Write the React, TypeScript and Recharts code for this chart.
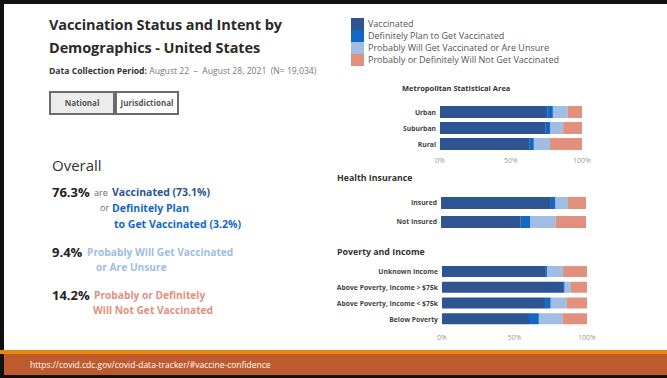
import React from 'react';
import { BarChart, Bar, XAxis, YAxis } from 'recharts';

const seriesNames = [
  'Vaccinated',
  'Definitely Plan to Get Vaccinated',
  'Probably Will Get Vaccinated or Are Unsure',
  'Probably or Definitely Will Not Get Vaccinated',
];
const seriesKeys = ['vac', 'def', 'prob', 'not'];
const seriesColors = ['#2C5591', '#1368C4', '#A0BDE3', '#E0907D'];

const metroCategories = ['Urban', 'Suburban', 'Rural'];
const metroVaccinated = [75.5, 74.5, 62.8];
const metroDefinitely = [4.0, 3.3, 3.3];
const metroProbably = [10.5, 8.9, 11.4];
const metroNot = [10.0, 13.3, 22.5];

const insCategories = ['Insured', 'Not Insured'];
const insVaccinated = [75.8, 55.0];
const insDefinitely = [3.2, 6.7];
const insProbably = [8.6, 17.3];
const insNot = [12.4, 21.0];

const povCategories = [
  'Unknown Income',
  'Above Poverty, Income > $75k',
  'Above Poverty, Income < $75k',
  'Below Poverty',
];
const povVaccinated = [71.6, 83.5, 71.1, 60.0];
const povDefinitely = [0.9, 1.1, 3.9, 6.8];
const povProbably = [11.0, 4.4, 10.8, 16.2];
const povNot = [16.5, 11.0, 14.2, 17.0];

const xTicks = [0, 50, 100];

const build = (cats: string[], a: number[], b: number[], c: number[], d: number[]) =>
  cats.map((name, i) => ({ name, vac: a[i], def: b[i], prob: c[i], not: d[i] }));

const metroData = build(metroCategories, metroVaccinated, metroDefinitely, metroProbably, metroNot);
const insData = build(insCategories, insVaccinated, insDefinitely, insProbably, insNot);
const povData = build(povCategories, povVaccinated, povDefinitely, povProbably, povNot);

const FONT = '"Open Sans", "Noto Sans", sans-serif';

const YTick = (p: any) => (
  <text
    x={p.x}
    y={p.y}
    dy={2.5}
    textAnchor="end"
    fontSize={6.8}
    fontWeight={700}
    fill="#444"
    fontFamily={FONT}
  >
    {p.payload.value}
  </text>
);

const xTick = { fontSize: 7, fill: '#9a9a9a', fontFamily: FONT };

function StackChart(props: {
  data: any[];
  left: number;
  top: number;
  width: number;
  height: number;
  yWidth: number;
  marginTop: number;
  showX: boolean;
  tickMargin: number;
  barSize: number;
}) {
  const { data, left, top, width, height, yWidth, marginTop, showX, tickMargin, barSize } = props;
  return (
    <div style={{ position: 'absolute', left, top }}>
      <BarChart
        width={width + 14}
        height={height}
        data={data}
        layout="vertical"
        margin={{ top: marginTop, right: 14, bottom: 0, left: 0 }}
      >
        <XAxis
          type="number"
          domain={[0, 100]}
          ticks={xTicks}
          tickFormatter={(v: number) => `${v}%`}
          axisLine={false}
          tickLine={false}
          tickSize={0}
          tickMargin={tickMargin}
          tick={xTick}
          height={showX ? 20 : 0}
          hide={!showX}
          interval={0}
        />
        <YAxis
          type="category"
          dataKey="name"
          width={yWidth}
          axisLine={false}
          tickLine={false}
          tickSize={0}
          tickMargin={4}
          tick={<YTick />}
          interval={0}
        />
        {seriesKeys.map((k, i) => (
          <Bar key={k} dataKey={k} stackId="s" fill={seriesColors[i]} barSize={barSize} isAnimationActive={false} />
        ))}
      </BarChart>
    </div>
  );
}

const abs = (left: number, centerY: number, extra: React.CSSProperties = {}): React.CSSProperties => ({
  position: 'absolute',
  left,
  top: centerY - 10,
  height: 20,
  lineHeight: '20px',
  whiteSpace: 'nowrap',
  fontFamily: FONT,
  ...extra,
});

export default function App() {
  return (
    <div
      style={{
        position: 'absolute',
        left: 0,
        top: 0,
        width: 667,
        height: 378,
        background: '#fff',
        overflow: 'hidden',
        fontFamily: FONT,
      }}
    >
      {/* frame */}
      <div style={{ position: 'absolute', left: 0, top: 0, width: 667, height: 4, background: '#111' }} />
      <div style={{ position: 'absolute', left: 0, top: 0, width: 4, height: 378, background: '#111' }} />
      <div style={{ position: 'absolute', left: 0, top: 350, width: 667, height: 4, background: '#E8870F' }} />
      <div style={{ position: 'absolute', left: 4, top: 354, width: 663, height: 21, background: '#BD5A2E' }} />
      <div style={{ position: 'absolute', left: 0, top: 375, width: 667, height: 3, background: '#111' }} />
      <div style={abs(30, 365, { color: '#fff', fontSize: 8.5 })}>
        https://covid.cdc.gov/covid-data-tracker/#vaccine-confidence
      </div>

      {/* title */}
      <div style={abs(49, 25, { fontSize: 14.5, fontWeight: 700, color: '#2b2b2b', letterSpacing: -0.1 })}>
        Vaccination Status and Intent by
      </div>
      <div style={abs(49, 48, { fontSize: 14.5, fontWeight: 700, color: '#2b2b2b', letterSpacing: -0.1 })}>
        Demographics - United States
      </div>
      <div style={abs(49, 71, { fontSize: 8.6, color: '#777' })}>
        <span style={{ fontWeight: 700, color: '#333' }}>Data Collection Period:</span> August 22 &nbsp;–&nbsp; August 28, 2021 &nbsp;(N= 19,034)
      </div>

      {/* buttons */}
      <div
        style={{
          position: 'absolute',
          left: 49,
          top: 91,
          width: 66,
          height: 24,
          boxSizing: 'border-box',
          border: '2px solid #6b6b6b',
          background: '#ececec',
          fontSize: 8,
          fontWeight: 700,
          color: '#555',
          textAlign: 'center',
          lineHeight: '20px',
        }}
      >
        National
      </div>
      <div
        style={{
          position: 'absolute',
          left: 115,
          top: 91,
          width: 64,
          height: 24,
          boxSizing: 'border-box',
          border: '2px solid #6b6b6b',
          background: '#fff',
          fontSize: 8,
          fontWeight: 700,
          color: '#555',
          textAlign: 'center',
          lineHeight: '20px',
        }}
      >
        Jurisdictional
      </div>

      {/* overall summary */}
      <div style={abs(52, 165, { fontSize: 15, color: '#333' })}>Overall</div>

      <div style={abs(52, 192, { fontSize: 13, fontWeight: 700, color: '#222' })}>76.3%</div>
      <div style={abs(94, 193, { fontSize: 9, color: '#666' })}>are</div>
      <div style={abs(112, 192, { fontSize: 10.5, fontWeight: 700, color: seriesColors[0] })}>Vaccinated (73.1%)</div>
      <div style={abs(100, 208, { fontSize: 9, color: '#666' })}>or</div>
      <div style={abs(112, 208, { fontSize: 10.5, fontWeight: 700, color: seriesColors[1] })}>Definitely Plan</div>
      <div style={abs(114, 224, { fontSize: 10.5, fontWeight: 700, color: seriesColors[1] })}>to Get Vaccinated (3.2%)</div>

      <div style={abs(52, 252, { fontSize: 13, fontWeight: 700, color: '#222' })}>9.4%</div>
      <div style={abs(87, 252, { fontSize: 10.2, fontWeight: 700, color: seriesColors[2] })}>Probably Will Get Vaccinated</div>
      <div style={abs(96, 267, { fontSize: 10.2, fontWeight: 700, color: seriesColors[2] })}>or Are Unsure</div>

      <div style={abs(52, 295, { fontSize: 13, fontWeight: 700, color: '#222' })}>14.2%</div>
      <div style={abs(94, 295, { fontSize: 10.2, fontWeight: 700, color: seriesColors[3] })}>Probably or Definitely</div>
      <div style={abs(93, 310, { fontSize: 10.2, fontWeight: 700, color: seriesColors[3] })}>Will Not Get Vaccinated</div>

      {/* legend */}
      {seriesNames.map((n, i) => (
        <React.Fragment key={n}>
          <div
            style={{
              position: 'absolute',
              left: 351,
              top: 18 + i * 12,
              width: 13,
              height: 12,
              background: seriesColors[i],
            }}
          />
          <div style={abs(368, 24 + i * 12, { fontSize: 9, color: '#555' })}>{n}</div>
        </React.Fragment>
      ))}

      {/* section headers */}
      <div style={abs(402, 88, { fontSize: 7.5, fontWeight: 700, color: '#333' })}>Metropolitan Statistical Area</div>
      <div style={abs(337, 178, { fontSize: 8.8, fontWeight: 700, color: '#333' })}>Health Insurance</div>
      <div style={abs(337, 252, { fontSize: 8.8, fontWeight: 700, color: '#333' })}>Poverty and Income</div>

      <StackChart data={metroData} left={330} top={100} width={252} height={72} yWidth={110} marginTop={4} showX={true} tickMargin={6} barSize={12} />
      <StackChart data={insData} left={330} top={190} width={256} height={41} yWidth={111} marginTop={3} showX={false} tickMargin={0} barSize={12} />
      <StackChart data={povData} left={330} top={260} width={257} height={87} yWidth={112} marginTop={4} showX={true} tickMargin={8} barSize={11} />
    </div>
  );
}
